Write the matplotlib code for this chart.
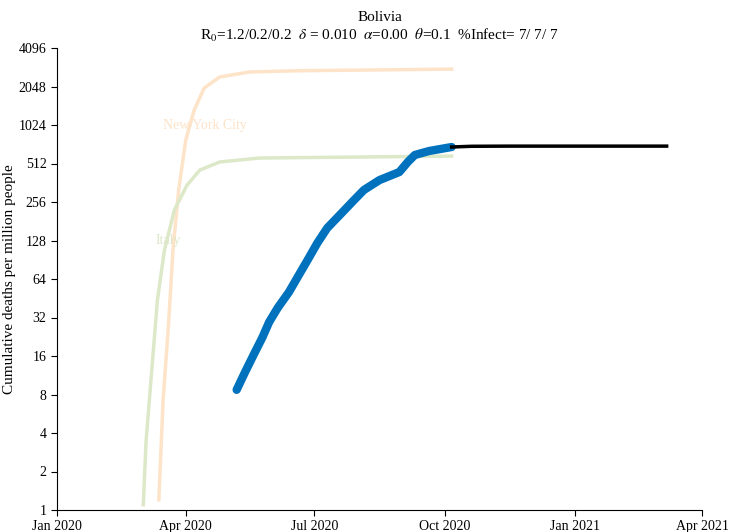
import matplotlib
matplotlib.use("Agg")
import matplotlib.pyplot as plt
import matplotlib.dates as mdates
import pandas as pd

plt.rcParams['font.family'] = ['Liberation Serif', 'DejaVu Serif']
plt.rcParams['mathtext.fontset'] = 'stix'

# Bolivia observed cumulative deaths per million
bol_dates = pd.to_datetime(['2020-05-07', '2020-05-13', '2020-05-20', '2020-05-25', '2020-05-30',
                            '2020-06-05', '2020-06-13', '2020-06-20', '2020-06-27', '2020-07-03',
                            '2020-07-10', '2020-07-19', '2020-07-29', '2020-08-05', '2020-08-16',
                            '2020-08-30', '2020-09-05', '2020-09-10', '2020-09-20', '2020-10-06'])
bol_vals = [8.7, 12.0, 17.2, 22.1, 29.5, 38, 50.6, 68.8, 93.4, 122,
            160, 203, 265, 318, 380, 439, 526, 597, 641, 689]

# model projection
proj_dates = pd.to_datetime(['2020-10-06', '2020-10-20', '2020-11-15', '2021-01-01', '2021-03-07'])
proj_vals = [689, 698, 700, 700, 700]

# reference curves
nyc_dates = pd.to_datetime(['2020-03-13', '2020-03-16', '2020-03-20', '2020-03-23', '2020-03-27',
                            '2020-04-01', '2020-04-07', '2020-04-14', '2020-04-25', '2020-05-16',
                            '2020-06-20', '2020-10-06'])
nyc_vals = [1.2, 7.2, 30, 108, 316, 780, 1340, 1990, 2430, 2660, 2720, 2800]
ita_dates = pd.to_datetime(['2020-03-02', '2020-03-04', '2020-03-08', '2020-03-12', '2020-03-17',
                            '2020-03-24', '2020-04-02', '2020-04-11', '2020-04-25', '2020-05-23',
                            '2020-10-06'])
ita_vals = [1.1, 3.5, 12.4, 44, 108, 222, 348, 455, 526, 565, 585]

fig = plt.figure(figsize=(7.3, 5.32), dpi=100)
ax = fig.add_axes([57/730, 22/532, 645/730, 462/532])

ax.plot(nyc_dates, nyc_vals, color='#fde3c8', lw=2.5)
ax.plot(ita_dates, ita_vals, color='#dce8c8', lw=2.5)
ax.plot(bol_dates, bol_vals, color='#0072BD', lw=6, solid_capstyle='round', solid_joinstyle='round')
ax.plot(proj_dates, proj_vals, color='black', lw=2.5)

ax.text(pd.Timestamp('2020-03-16'), 1024, 'New York City', color='#fde3c8', fontsize=10, va='center')
ax.text(pd.Timestamp('2020-03-11'), 128, 'Italy', color='#dce8c8', fontsize=10, va='center')

ax.set_yscale('log', base=2)
ax.set_ylim(1, 4096)
ticks = [2 ** i for i in range(13)]
ax.set_yticks(ticks)
ax.set_yticklabels([str(t) for t in ticks])
ax.minorticks_off()
ax.set_xlim(pd.Timestamp('2020-01-01'), pd.Timestamp('2021-04-01'))
xt = pd.to_datetime(['2020-01-01', '2020-04-01', '2020-07-01', '2020-10-01', '2021-01-01', '2021-04-01'])
ax.set_xticks(xt)
ax.xaxis.set_major_formatter(mdates.DateFormatter('%b %Y'))
ax.tick_params(direction='out', labelsize=10, length=4)
for s in ['top', 'right']:
    ax.spines[s].set_visible(False)
ax.set_ylabel('Cumulative deaths per million people', fontsize=11, labelpad=8)
ax.yaxis.set_label_coords(-0.063, 0.5)

ax.set_title('Bolivia\nR$_0$=1.2/0.2/0.2  $\\delta$ = 0.010  $\\alpha$=0.00  $\\theta$=0.1  %Infect= 7/ 7/ 7',
             fontsize=11, pad=6)

fig.savefig('out.png', dpi=100)
